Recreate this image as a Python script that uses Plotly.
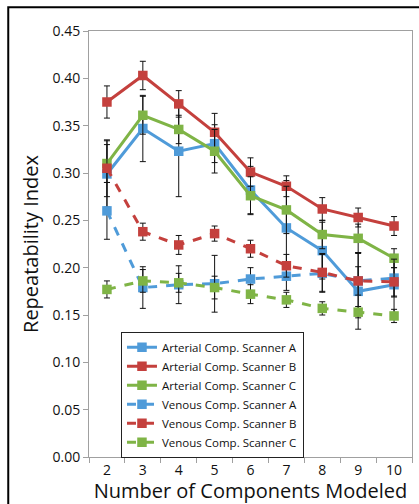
import plotly.graph_objects as go

categories = ["2", "3", "4", "5", "6", "7", "8", "9", "10"]

art_a = [0.299, 0.347, 0.323, 0.331, 0.282, 0.242, 0.218, 0.175, 0.182]
art_b = [0.375, 0.403, 0.373, 0.343, 0.301, 0.286, 0.262, 0.253, 0.244]
art_c = [0.310, 0.361, 0.346, 0.323, 0.276, 0.261, 0.235, 0.231, 0.210]
ven_a = [0.260, 0.179, 0.182, 0.183, 0.188, 0.191, 0.194, 0.186, 0.189]
ven_b = [0.305, 0.238, 0.224, 0.236, 0.220, 0.202, 0.195, 0.186, 0.185]
ven_c = [0.177, 0.186, 0.184, 0.179, 0.172, 0.166, 0.157, 0.153, 0.149]

err_art_a = [0.035, 0.035, 0.048, 0.020, 0.025, 0.050, 0.030, 0.040, 0.030]
err_art_b = [0.017, 0.015, 0.014, 0.020, 0.015, 0.011, 0.012, 0.010, 0.010]
err_art_c = [0.020, 0.020, 0.015, 0.023, 0.020, 0.025, 0.015, 0.015, 0.010]
err_ven_a = [0.030, 0.022, 0.020, 0.030, 0.012, 0.015, 0.020, 0.030, 0.020]
err_ven_b = [0.030, 0.009, 0.010, 0.008, 0.009, 0.012, 0.020, 0.015, 0.015]
err_ven_c = [0.009, 0.012, 0.010, 0.012, 0.010, 0.008, 0.007, 0.006, 0.007]

tick_vals = [0.0, 0.05, 0.10, 0.15, 0.20, 0.25, 0.30, 0.35, 0.40, 0.45]

BLUE = "#4F9BD9"
RED = "#C4403D"
GREEN = "#7FB446"

series = [
    ("Arterial Comp. Scanner A", art_a, err_art_a, BLUE, "solid"),
    ("Arterial Comp. Scanner B", art_b, err_art_b, RED, "solid"),
    ("Arterial Comp. Scanner C", art_c, err_art_c, GREEN, "solid"),
    ("Venous Comp. Scanner A", ven_a, err_ven_a, BLUE, "dash"),
    ("Venous Comp. Scanner B", ven_b, err_ven_b, RED, "dash"),
    ("Venous Comp. Scanner C", ven_c, err_ven_c, GREEN, "dash"),
]

FONT = "Open Sans"

fig = go.Figure()
for name, vals, errs, color, dash in series:
    fig.add_trace(go.Scatter(
        x=categories, y=vals, name=name, mode="lines+markers",
        line=dict(color=color, width=3, dash=dash),
        marker=dict(symbol="square", size=9.5, color=color),
        error_y=dict(type="data", array=errs, visible=True,
                     color="#111111", thickness=1, width=3),
    ))

fig.update_layout(
    width=419, height=504,
    margin=dict(l=89, r=6, t=31, b=45),
    paper_bgcolor="white", plot_bgcolor="white",
    font=dict(family=FONT, color="#111111"),
    showlegend=True,
    legend=dict(
        x=0.099, y=0.294, xanchor="left", yanchor="top",
        bgcolor="white", bordercolor="#222222", borderwidth=1,
        font=dict(size=11.5, family=FONT), tracegroupgap=0,
    ),
    xaxis=dict(
        type="category", range=[-0.5, 8.5],
        showgrid=False, showline=True, linecolor="#A0A0A0", linewidth=1,
        mirror=True, ticks="outside", tickson="boundaries", ticklen=5,
        tickcolor="#A0A0A0", tickfont=dict(size=14),
        title=dict(text="Number of Components Modeled", font=dict(size=20), standoff=5),
    ),
    yaxis=dict(
        range=[0, 0.45], tickvals=tick_vals, tickformat=".2f",
        showgrid=False, zeroline=False, showline=True, linecolor="#A0A0A0",
        linewidth=1, mirror=True, ticks="outside", ticklen=5, tickcolor="#A0A0A0",
        tickfont=dict(size=14),
        title=dict(text="Repeatability Index", font=dict(size=20), standoff=8),
    ),
    shapes=[dict(type="rect", xref="paper", yref="paper",
                 x0=-0.25, x1=1.2, y0=-0.3, y1=1.056,
                 line=dict(color="black", width=2), layer="above")],
)

fig.write_html("out.html", config={"displayModeBar": False},
               post_script="document.body.style.margin='0';document.body.style.overflow='hidden';")
